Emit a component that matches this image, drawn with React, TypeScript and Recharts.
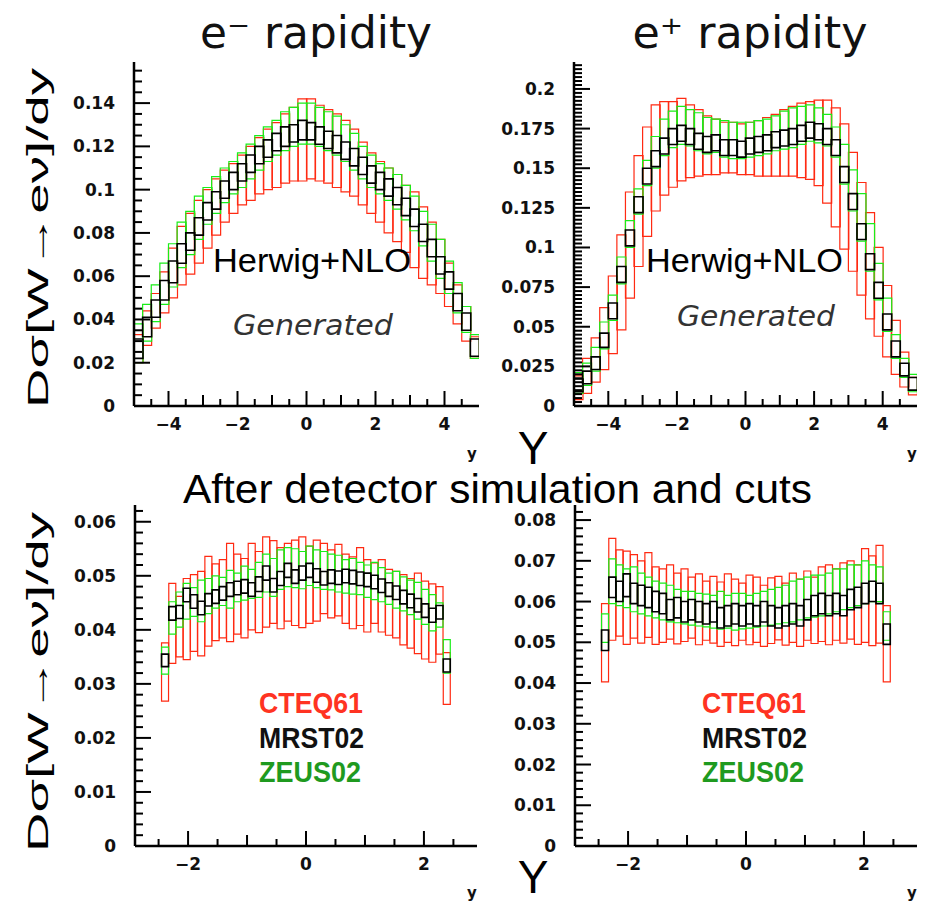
import React from 'react';
import { Bar, ComposedChart, XAxis, YAxis } from 'recharts';

// bin centres (rapidity)
const TOP_BINS = [
  -4.875, -4.625, -4.375, -4.125, -3.875, -3.625, -3.375, -3.125, -2.875, -2.625,
  -2.375, -2.125, -1.875, -1.625, -1.375, -1.125, -0.875, -0.625, -0.375, -0.125,
  0.125, 0.375, 0.625, 0.875, 1.125, 1.375, 1.625, 1.875, 2.125, 2.375,
  2.625, 2.875, 3.125, 3.375, 3.625, 3.875, 4.125, 4.375, 4.625, 4.875,
];
const CUT_BINS = [
  -2.389, -2.266, -2.144, -2.021, -1.899, -1.776, -1.654, -1.531, -1.409, -1.286,
  -1.164, -1.041, -0.919, -0.796, -0.674, -0.551, -0.429, -0.306, -0.184, -0.061,
  0.061, 0.184, 0.306, 0.429, 0.551, 0.674, 0.796, 0.919, 1.041, 1.164,
  1.286, 1.409, 1.531, 1.654, 1.776, 1.899, 2.021, 2.144, 2.266, 2.389,
];

// e- generated
const EM_CTEQ_LO = [0.020,0.028,0.036,0.043,0.050,0.056,0.061,0.066,0.073,0.079,0.085,0.089,0.093,0.095,0.098,0.100,0.101,0.103,0.104,0.104,0.105,0.104,0.103,0.101,0.099,0.097,0.093,0.089,0.085,0.080,0.076,0.071,0.064,0.059,0.056,0.052,0.046,0.038,0.030,0.022];
const EM_CTEQ_HI = [0.033,0.044,0.052,0.062,0.073,0.083,0.089,0.095,0.100,0.105,0.109,0.112,0.116,0.120,0.124,0.128,0.131,0.135,0.138,0.142,0.142,0.139,0.137,0.135,0.132,0.128,0.122,0.117,0.113,0.110,0.107,0.102,0.099,0.092,0.085,0.077,0.066,0.056,0.046,0.032];
const EM_ZEUS_LO = [0.020,0.030,0.039,0.047,0.055,0.064,0.070,0.077,0.084,0.089,0.094,0.098,0.101,0.105,0.109,0.113,0.116,0.118,0.120,0.121,0.121,0.120,0.118,0.116,0.113,0.109,0.105,0.101,0.098,0.095,0.091,0.086,0.081,0.074,0.067,0.059,0.052,0.043,0.034,0.022];
const EM_ZEUS_HI = [0.038,0.047,0.056,0.066,0.075,0.085,0.090,0.097,0.101,0.106,0.110,0.113,0.117,0.121,0.125,0.129,0.132,0.136,0.138,0.140,0.140,0.138,0.136,0.134,0.130,0.126,0.120,0.116,0.112,0.110,0.107,0.102,0.097,0.090,0.084,0.077,0.067,0.057,0.046,0.033];
const EM_MRST_LO = [0.022,0.032,0.041,0.049,0.057,0.066,0.072,0.079,0.086,0.091,0.096,0.100,0.104,0.108,0.112,0.115,0.118,0.120,0.122,0.123,0.123,0.121,0.119,0.117,0.114,0.111,0.107,0.103,0.100,0.097,0.093,0.088,0.083,0.076,0.069,0.061,0.054,0.044,0.035,0.023];
const EM_MRST_HI = [0.031,0.041,0.049,0.058,0.067,0.075,0.080,0.087,0.094,0.099,0.104,0.108,0.112,0.116,0.120,0.123,0.126,0.129,0.130,0.132,0.131,0.129,0.127,0.125,0.122,0.119,0.115,0.111,0.108,0.105,0.101,0.096,0.091,0.084,0.077,0.069,0.062,0.052,0.043,0.031];

// e+ generated
const EP_CTEQ_LO = [0.004,0.008,0.015,0.023,0.033,0.048,0.068,0.088,0.107,0.123,0.133,0.138,0.142,0.144,0.145,0.146,0.146,0.147,0.147,0.146,0.146,0.145,0.145,0.145,0.145,0.145,0.144,0.143,0.139,0.128,0.113,0.099,0.085,0.070,0.055,0.044,0.031,0.020,0.012,0.007];
const EP_CTEQ_HI = [0.019,0.030,0.043,0.062,0.082,0.108,0.135,0.158,0.176,0.190,0.192,0.192,0.194,0.190,0.187,0.183,0.181,0.179,0.179,0.178,0.179,0.180,0.182,0.184,0.187,0.189,0.191,0.192,0.193,0.193,0.188,0.178,0.160,0.141,0.122,0.100,0.076,0.054,0.034,0.018];
const EP_ZEUS_LO = [0.008,0.013,0.022,0.036,0.054,0.077,0.100,0.121,0.139,0.150,0.158,0.163,0.165,0.164,0.161,0.159,0.160,0.157,0.156,0.156,0.157,0.158,0.159,0.161,0.162,0.163,0.165,0.167,0.166,0.164,0.157,0.140,0.123,0.104,0.085,0.067,0.047,0.030,0.018,0.009];
const EP_ZEUS_HI = [0.021,0.027,0.037,0.053,0.070,0.094,0.117,0.137,0.155,0.170,0.181,0.186,0.189,0.187,0.185,0.182,0.181,0.180,0.179,0.179,0.179,0.180,0.181,0.183,0.186,0.188,0.189,0.190,0.188,0.184,0.176,0.165,0.149,0.134,0.115,0.090,0.068,0.045,0.030,0.020];
const EP_MRST_LO = [0.009,0.014,0.023,0.037,0.055,0.078,0.101,0.122,0.140,0.151,0.159,0.165,0.167,0.165,0.162,0.160,0.161,0.158,0.158,0.157,0.159,0.160,0.161,0.163,0.164,0.165,0.167,0.169,0.168,0.165,0.158,0.141,0.124,0.105,0.086,0.068,0.048,0.031,0.019,0.010];
const EP_MRST_HI = [0.017,0.022,0.031,0.046,0.065,0.088,0.111,0.132,0.150,0.161,0.169,0.175,0.177,0.175,0.172,0.170,0.171,0.168,0.168,0.167,0.169,0.170,0.171,0.173,0.174,0.175,0.177,0.179,0.178,0.175,0.168,0.151,0.134,0.115,0.096,0.078,0.058,0.041,0.027,0.018];

// e- after detector simulation and cuts
const EMC_CTEQ_LO = [0.0268,0.0338,0.0350,0.0345,0.0360,0.0352,0.0370,0.0380,0.0385,0.0378,0.0392,0.0385,0.0400,0.0395,0.0405,0.0412,0.0402,0.0416,0.0408,0.0404,0.0412,0.0416,0.0430,0.0422,0.0426,0.0412,0.0402,0.0408,0.0396,0.0412,0.0396,0.0390,0.0385,0.0372,0.0366,0.0356,0.0346,0.0340,0.0355,0.0262];
const EMC_CTEQ_HI = [0.0376,0.0486,0.0462,0.0495,0.0502,0.0508,0.0536,0.0522,0.0530,0.0560,0.0540,0.0532,0.0560,0.0545,0.0572,0.0565,0.0552,0.0560,0.0566,0.0572,0.0555,0.0566,0.0560,0.0548,0.0558,0.0540,0.0535,0.0552,0.0530,0.0524,0.0530,0.0512,0.0508,0.0502,0.0495,0.0505,0.0490,0.0485,0.0480,0.0358];
const EMC_ZEUS_LO = [0.0318,0.0392,0.0405,0.0420,0.0425,0.0415,0.0430,0.0440,0.0445,0.0440,0.0452,0.0455,0.0458,0.0460,0.0470,0.0462,0.0475,0.0480,0.0478,0.0476,0.0482,0.0478,0.0475,0.0474,0.0470,0.0468,0.0466,0.0465,0.0460,0.0456,0.0452,0.0447,0.0440,0.0435,0.0428,0.0420,0.0410,0.0398,0.0405,0.0320];
const EMC_ZEUS_HI = [0.0368,0.0452,0.0470,0.0486,0.0478,0.0492,0.0495,0.0500,0.0497,0.0510,0.0505,0.0518,0.0512,0.0525,0.0540,0.0532,0.0548,0.0552,0.0550,0.0545,0.0555,0.0548,0.0545,0.0540,0.0538,0.0530,0.0532,0.0525,0.0520,0.0525,0.0515,0.0505,0.0508,0.0498,0.0492,0.0488,0.0475,0.0465,0.0450,0.0382];
const EMC_MRST_LO = [0.0332,0.0418,0.0421,0.0452,0.0440,0.0428,0.0444,0.0449,0.0455,0.0462,0.0465,0.0468,0.0462,0.0471,0.0492,0.0470,0.0482,0.0497,0.0486,0.0492,0.0497,0.0488,0.0483,0.0486,0.0484,0.0487,0.0485,0.0482,0.0480,0.0476,0.0469,0.0462,0.0456,0.0448,0.0441,0.0433,0.0423,0.0414,0.0420,0.0322];
const EMC_MRST_HI = [0.0355,0.0443,0.0445,0.0477,0.0465,0.0453,0.0467,0.0474,0.0480,0.0487,0.0490,0.0493,0.0487,0.0498,0.0518,0.0495,0.0508,0.0523,0.0511,0.0518,0.0523,0.0513,0.0508,0.0511,0.0509,0.0512,0.0510,0.0507,0.0505,0.0501,0.0494,0.0487,0.0481,0.0473,0.0466,0.0458,0.0448,0.0440,0.0445,0.0346];

// e+ after detector simulation and cuts
const EPC_CTEQ_LO = [0.0403,0.0505,0.0515,0.0495,0.0510,0.0498,0.0512,0.0495,0.0500,0.0508,0.0496,0.0502,0.0510,0.0494,0.0505,0.0498,0.0490,0.0500,0.0492,0.0505,0.0494,0.0500,0.0490,0.0497,0.0506,0.0493,0.0500,0.0490,0.0505,0.0497,0.0502,0.0494,0.0505,0.0498,0.0508,0.0495,0.0500,0.0492,0.0498,0.0403];
const EPC_CTEQ_HI = [0.0595,0.0755,0.0727,0.0724,0.0715,0.0700,0.0720,0.0685,0.0680,0.0690,0.0670,0.0680,0.0660,0.0668,0.0650,0.0662,0.0648,0.0668,0.0655,0.0645,0.0665,0.0660,0.0640,0.0658,0.0662,0.0645,0.0670,0.0655,0.0675,0.0660,0.0685,0.0690,0.0680,0.0695,0.0700,0.0690,0.0730,0.0712,0.0738,0.0590];
const EPC_ZEUS_LO = [0.0500,0.0595,0.0590,0.0585,0.0575,0.0570,0.0565,0.0560,0.0555,0.0550,0.0548,0.0545,0.0542,0.0540,0.0538,0.0535,0.0532,0.0535,0.0530,0.0533,0.0535,0.0537,0.0540,0.0542,0.0545,0.0548,0.0550,0.0555,0.0560,0.0562,0.0565,0.0570,0.0575,0.0580,0.0585,0.0590,0.0595,0.0600,0.0600,0.0505];
const EPC_ZEUS_HI = [0.0570,0.0705,0.0690,0.0680,0.0685,0.0670,0.0660,0.0650,0.0645,0.0640,0.0630,0.0625,0.0625,0.0620,0.0618,0.0615,0.0625,0.0615,0.0620,0.0620,0.0615,0.0620,0.0625,0.0630,0.0635,0.0640,0.0650,0.0655,0.0660,0.0665,0.0665,0.0670,0.0680,0.0680,0.0690,0.0690,0.0700,0.0690,0.0685,0.0575];
const EPC_MRST_LO = [0.0480,0.0610,0.0600,0.0612,0.0595,0.0590,0.0585,0.0575,0.0570,0.0555,0.0560,0.0550,0.0555,0.0550,0.0545,0.0550,0.0535,0.0540,0.0545,0.0540,0.0545,0.0540,0.0550,0.0540,0.0535,0.0540,0.0545,0.0540,0.0555,0.0565,0.0570,0.0565,0.0570,0.0565,0.0580,0.0585,0.0595,0.0600,0.0595,0.0495];
const EPC_MRST_HI = [0.0530,0.0660,0.0650,0.0668,0.0645,0.0640,0.0635,0.0625,0.0620,0.0605,0.0610,0.0600,0.0605,0.0600,0.0595,0.0600,0.0585,0.0590,0.0595,0.0590,0.0595,0.0590,0.0600,0.0590,0.0585,0.0590,0.0595,0.0590,0.0605,0.0615,0.0620,0.0615,0.0620,0.0615,0.0630,0.0635,0.0645,0.0650,0.0645,0.0545];

// axis ticks
const TOP_X_MAJOR = [-4, -2, 0, 2, 4];
const TOP_X_MID = [-3, -1, 1, 3];
const TOP_X_MINOR = [-4.5, -3.5, -2.5, -1.5, -0.5, 0.5, 1.5, 2.5, 3.5, 4.5];
const CUT_X_MAJOR = [-2, 0, 2];
const CUT_X_MID = [-1, 1];
const CUT_X_MINOR = [-2.5, -1.5, -0.5, 0.5, 1.5, 2.5];

const EM_Y_MAJOR = [0, 0.02, 0.04, 0.06, 0.08, 0.1, 0.12, 0.14];
const EM_Y_MINOR = [0.005, 0.01, 0.015, 0.025, 0.03, 0.035, 0.045, 0.05, 0.055, 0.065, 0.07, 0.075, 0.085, 0.09, 0.095, 0.105, 0.11, 0.115, 0.125, 0.13, 0.135, 0.145, 0.15, 0.155];
const EP_Y_MAJOR = [0, 0.025, 0.05, 0.075, 0.1, 0.125, 0.15, 0.175, 0.2];
const EP_Y_MINOR = [0.0025, 0.005, 0.0075, 0.01, 0.0125, 0.015, 0.0175, 0.02, 0.0225, 0.0275, 0.03, 0.0325, 0.035, 0.0375, 0.04, 0.0425, 0.045, 0.0475, 0.0525, 0.055, 0.0575, 0.06, 0.0625, 0.065, 0.0675, 0.07, 0.0725, 0.0775, 0.08, 0.0825, 0.085, 0.0875, 0.09, 0.0925, 0.095, 0.0975, 0.1025, 0.105, 0.1075, 0.11, 0.1125, 0.115, 0.1175, 0.12, 0.1225, 0.1275, 0.13, 0.1325, 0.135, 0.1375, 0.14, 0.1425, 0.145, 0.1475, 0.1525, 0.155, 0.1575, 0.16, 0.1625, 0.165, 0.1675, 0.17, 0.1725, 0.1775, 0.18, 0.1825, 0.185, 0.1875, 0.19, 0.1925, 0.195, 0.1975, 0.2025, 0.205, 0.2075, 0.21, 0.2125, 0.215];
const EMC_Y_MAJOR = [0, 0.01, 0.02, 0.03, 0.04, 0.05, 0.06];
const EMC_Y_MINOR = [0.002, 0.004, 0.006, 0.008, 0.012, 0.014, 0.016, 0.018, 0.022, 0.024, 0.026, 0.028, 0.032, 0.034, 0.036, 0.038, 0.042, 0.044, 0.046, 0.048, 0.052, 0.054, 0.056, 0.058, 0.062];
const EPC_Y_MAJOR = [0, 0.01, 0.02, 0.03, 0.04, 0.05, 0.06, 0.07, 0.08];
const EPC_Y_MINOR = [0.002, 0.004, 0.006, 0.008, 0.012, 0.014, 0.016, 0.018, 0.022, 0.024, 0.026, 0.028, 0.032, 0.034, 0.036, 0.038, 0.042, 0.044, 0.046, 0.048, 0.052, 0.054, 0.056, 0.058, 0.062, 0.064, 0.066, 0.068, 0.072, 0.074, 0.076, 0.078, 0.082];

const RED = '#ff2a12';
const GREEN = '#19ee19';
const LABEL_FONT = '"DejaVu Sans", sans-serif';
const SANS = '"Liberation Sans", Arial, sans-serif';

type Range = [number, number];
type Row = { y: number; cteq: Range; zeus: Range; mrst: Range };

function buildRows(
  bins: number[],
  cLo: number[], cHi: number[],
  zLo: number[], zHi: number[],
  mLo: number[], mHi: number[],
): Row[] {
  return bins.map((y, i) => ({
    y,
    cteq: [cLo[i], cHi[i]],
    zeus: [zLo[i], zHi[i]],
    mrst: [mLo[i], mHi[i]],
  }));
}

const fmtTick = (v: number) => (v < 0 ? `\u2212${Math.abs(v)}` : String(v));

function xTick(major: number[], mid: number[]) {
  return (p: any) => {
    const v = p.payload.value;
    const isMajor = major.includes(v);
    const len = isMajor ? 15 : mid.includes(v) ? 11 : 7;
    return (
      <g>
        <line x1={p.x} x2={p.x} y1={p.y} y2={p.y - len} stroke="#000" strokeWidth={2} />
        {isMajor && (
          <text x={p.x} y={p.y + 24} textAnchor="middle" fontFamily={LABEL_FONT} fontWeight="bold" fontSize={17} fill="#111">
            {fmtTick(v)}
          </text>
        )}
      </g>
    );
  };
}

function yTick(major: number[]) {
  return (p: any) => {
    const v = p.payload.value;
    const isMajor = major.includes(v);
    const len = isMajor ? 16 : 8;
    return (
      <g>
        <line x1={p.x} x2={p.x + len} y1={p.y} y2={p.y} stroke="#000" strokeWidth={2} />
        {isMajor && (
          <text x={p.x - 19} y={p.y + 6} textAnchor="end" fontFamily={LABEL_FONT} fontWeight="bold" fontSize={17} fill="#111">
            {String(v)}
          </text>
        )}
      </g>
    );
  };
}

type PanelProps = {
  data: Row[];
  left: number;
  top: number;
  plotW: number;
  plotH: number;
  xDomain: [number, number];
  xMajor: number[];
  xMid: number[];
  xMinor: number[];
  yMax: number;
  yMajor: number[];
  yMinor: number[];
};

function Panel({ data, left, top, plotW, plotH, xDomain, xMajor, xMid, xMinor, yMax, yMajor, yMinor }: PanelProps) {
  const ml = 90;
  const mt = 10;
  const mr = 10;
  const xh = 40;
  const xTicks = [...xMajor, ...xMid, ...xMinor].sort((a, b) => a - b);
  const yTicks = [...yMajor, ...yMinor].sort((a, b) => a - b);
  return (
    <div style={{ position: 'absolute', left: left - ml, top: top - mt }}>
      <ComposedChart
        width={plotW + ml + mr}
        height={plotH + mt + xh}
        data={data}
        margin={{ top: mt, right: mr, bottom: 0, left: 0 }}
        barCategoryGap={0}
        barGap={0}
      >
        <XAxis
          xAxisId="c"
          dataKey="y"
          type="number"
          domain={xDomain}
          allowDataOverflow
          ticks={xTicks}
          interval={0}
          height={xh}
          tickSize={0}
          tickMargin={0}
          tickLine={false}
          axisLine={{ stroke: '#000', strokeWidth: 2.5 }}
          tick={xTick(xMajor, xMid)}
        />
        <XAxis xAxisId="z" dataKey="y" type="number" domain={xDomain} allowDataOverflow hide />
        <XAxis xAxisId="m" dataKey="y" type="number" domain={xDomain} allowDataOverflow hide />
        <XAxis
          xAxisId="frame"
          orientation="top"
          type="number"
          domain={xDomain}
          height={0}
          tick={false}
          tickLine={false}
          axisLine={{ stroke: '#000', strokeWidth: 1.5 }}
        />
        <YAxis
          yAxisId="v"
          type="number"
          domain={[0, yMax]}
          allowDataOverflow
          ticks={yTicks}
          interval={0}
          width={ml}
          tickSize={0}
          tickMargin={0}
          tickLine={false}
          axisLine={{ stroke: '#000', strokeWidth: 2.5 }}
          tick={yTick(yMajor)}
        />
        <YAxis
          yAxisId="frame"
          orientation="right"
          type="number"
          domain={[0, 1]}
          width={0}
          tick={false}
          tickLine={false}
          axisLine={{ stroke: '#000', strokeWidth: 1.5 }}
        />
        <Bar xAxisId="c" yAxisId="v" dataKey="cteq" fill="none" stroke={RED} strokeWidth={1.2} isAnimationActive={false} />
        <Bar xAxisId="z" yAxisId="v" dataKey="zeus" fill="none" stroke={GREEN} strokeWidth={1.2} isAnimationActive={false} />
        <Bar xAxisId="m" yAxisId="v" dataKey="mrst" fill="none" stroke="#000" strokeWidth={1.6} isAnimationActive={false} />
      </ComposedChart>
    </div>
  );
}

const emRows = buildRows(TOP_BINS, EM_CTEQ_LO, EM_CTEQ_HI, EM_ZEUS_LO, EM_ZEUS_HI, EM_MRST_LO, EM_MRST_HI);
const epRows = buildRows(TOP_BINS, EP_CTEQ_LO, EP_CTEQ_HI, EP_ZEUS_LO, EP_ZEUS_HI, EP_MRST_LO, EP_MRST_HI);
const emcRows = buildRows(CUT_BINS, EMC_CTEQ_LO, EMC_CTEQ_HI, EMC_ZEUS_LO, EMC_ZEUS_HI, EMC_MRST_LO, EMC_MRST_HI);
const epcRows = buildRows(CUT_BINS, EPC_CTEQ_LO, EPC_CTEQ_HI, EPC_ZEUS_LO, EPC_ZEUS_HI, EPC_MRST_LO, EPC_MRST_HI);

function Legend({ x }: { x: number }) {
  return (
    <g fontFamily={SANS} fontWeight="bold" fontSize={30}>
      <text x={x} y={713} fill="#ff3322" textLength={104} lengthAdjust="spacingAndGlyphs">CTEQ61</text>
      <text x={x} y={748} fill="#111" textLength={105} lengthAdjust="spacingAndGlyphs">MRST02</text>
      <text x={x} y={782} fill="#1f9a1f" textLength={102} lengthAdjust="spacingAndGlyphs">ZEUS02</text>
    </g>
  );
}

export default function App() {
  return (
    <div style={{ position: 'absolute', left: 0, top: 0, width: 927, height: 903, background: '#fff', overflow: 'hidden' }}>
      <Panel data={emRows} left={134} top={62} plotW={345} plotH={344} xDomain={[-5, 5]} xMajor={TOP_X_MAJOR} xMid={TOP_X_MID} xMinor={TOP_X_MINOR} yMax={0.159} yMajor={EM_Y_MAJOR} yMinor={EM_Y_MINOR} />
      <Panel data={epRows} left={574} top={62} plotW={343} plotH={344} xDomain={[-5, 5]} xMajor={TOP_X_MAJOR} xMid={TOP_X_MID} xMinor={TOP_X_MINOR} yMax={0.217} yMajor={EP_Y_MAJOR} yMinor={EP_Y_MINOR} />
      <Panel data={emcRows} left={135} top={505} plotW={342} plotH={341} xDomain={[-2.9, 2.9]} xMajor={CUT_X_MAJOR} xMid={CUT_X_MID} xMinor={CUT_X_MINOR} yMax={0.0631} yMajor={EMC_Y_MAJOR} yMinor={EMC_Y_MINOR} />
      <Panel data={epcRows} left={575} top={505} plotW={342} plotH={341} xDomain={[-2.9, 2.9]} xMajor={CUT_X_MAJOR} xMid={CUT_X_MID} xMinor={CUT_X_MINOR} yMax={0.0837} yMajor={EPC_Y_MAJOR} yMinor={EPC_Y_MINOR} />
      <svg width={927} height={903} style={{ position: 'absolute', left: 0, top: 0, pointerEvents: 'none' }}>
        <g fontFamily={LABEL_FONT} fill="#111">
          <text x={316} y={48} fontSize={44} textAnchor="middle" textLength={232} lengthAdjust="spacingAndGlyphs">e⁻ rapidity</text>
          <text x={750} y={48} fontSize={44} textAnchor="middle" textLength={235} lengthAdjust="spacingAndGlyphs">e⁺ rapidity</text>
          <text x={233} y={335} fontSize={28} fontStyle="italic" fill="#333" textLength={160} lengthAdjust="spacingAndGlyphs">Generated</text>
          <text x={677} y={326} fontSize={28} fontStyle="italic" fill="#333" textLength={158} lengthAdjust="spacingAndGlyphs">Generated</text>
          <text x={472} y={459} fontSize={15} fontWeight="bold" textAnchor="middle">y</text>
          <text x={912} y={459} fontSize={15} fontWeight="bold" textAnchor="middle">y</text>
          <text x={472} y={898} fontSize={15} fontWeight="bold" textAnchor="middle">y</text>
          <text x={912} y={898} fontSize={15} fontWeight="bold" textAnchor="middle">y</text>
        </g>
        <g fontFamily={SANS} fill="#000">
          <text x={213} y={272} fontSize={33} textLength={198} lengthAdjust="spacingAndGlyphs">Herwig+NLO</text>
          <text x={646} y={272} fontSize={33} textLength={197} lengthAdjust="spacingAndGlyphs">Herwig+NLO</text>
          <text x={183} y={503} fontSize={40} textLength={629} lengthAdjust="spacingAndGlyphs">After detector simulation and cuts</text>
          <text x={533} y={464} fontSize={46} textAnchor="middle">Y</text>
          <text x={533} y={893} fontSize={46} textAnchor="middle">Y</text>
          <text transform="translate(48 238) rotate(-90)" fontSize={30} textAnchor="middle" textLength={340} lengthAdjust="spacingAndGlyphs">Dσ[W→eν]/dy</text>
          <text transform="translate(48 682) rotate(-90)" fontSize={30} textAnchor="middle" textLength={340} lengthAdjust="spacingAndGlyphs">Dσ[W→eν]/dy</text>
        </g>
        <Legend x={259} />
        <Legend x={702} />
      </svg>
    </div>
  );
}
